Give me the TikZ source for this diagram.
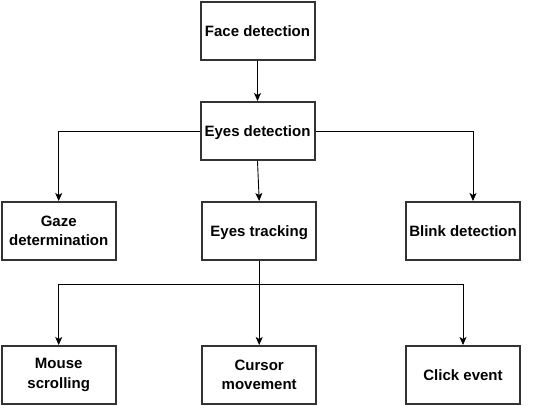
\documentclass[tikz,border=0pt]{standalone}
\usepackage{fontspec}
\setmainfont{Liberation Sans}
\usetikzlibrary{arrows.meta,calc}
\begin{document}
\begin{tikzpicture}[x=1pt,y=-1pt,
  box/.style={draw=black!80, line width=2pt, fill=white, minimum width=114pt, minimum height=58pt,
    inner sep=1pt, align=center, font=\fontsize{15}{19.5}\selectfont\bfseries},
  one/.style={box, text height=12pt, text depth=1.2pt},
  conn/.style={draw=black, line width=0.9pt, -{Stealth[width=7pt,length=8pt,inset=2pt]}}]
\useasboundingbox (0,0) rectangle (545,406);
\node[one] (face) at (257.5,31) {Face detection};
\node[one] (eyes) at (257.5,131) {Eyes detection};
\node[box] (gaze) at (58.7,231) {Gaze\\determination};
\node[one] (track) at (259.2,231) {Eyes tracking};
\node[one] (blink) at (463,231) {Blink detection};
\node[box] (mouse) at (58.7,375) {Mouse\\scrolling};
\node[box] (cursor) at (259.2,375) {Cursor\\movement};
\node[one] (click) at (463,375) {Click event};
\coordinate (bt) at ($(blink.north)+(10,0)$);
\coordinate (j) at (track.south |- 0,284);
\draw[conn] (face.south) -- (eyes.north);
\draw[conn] (eyes.west) -| (gaze.north);
\draw[conn] (eyes.east) -| (bt);
\draw[conn] (eyes.south) -- (track.north);
\draw[conn] (track.south) -- (cursor.north);
\draw[conn] (j) -| (mouse.north);
\draw[conn] (j) -| (click.north);
\end{tikzpicture}
\end{document}
